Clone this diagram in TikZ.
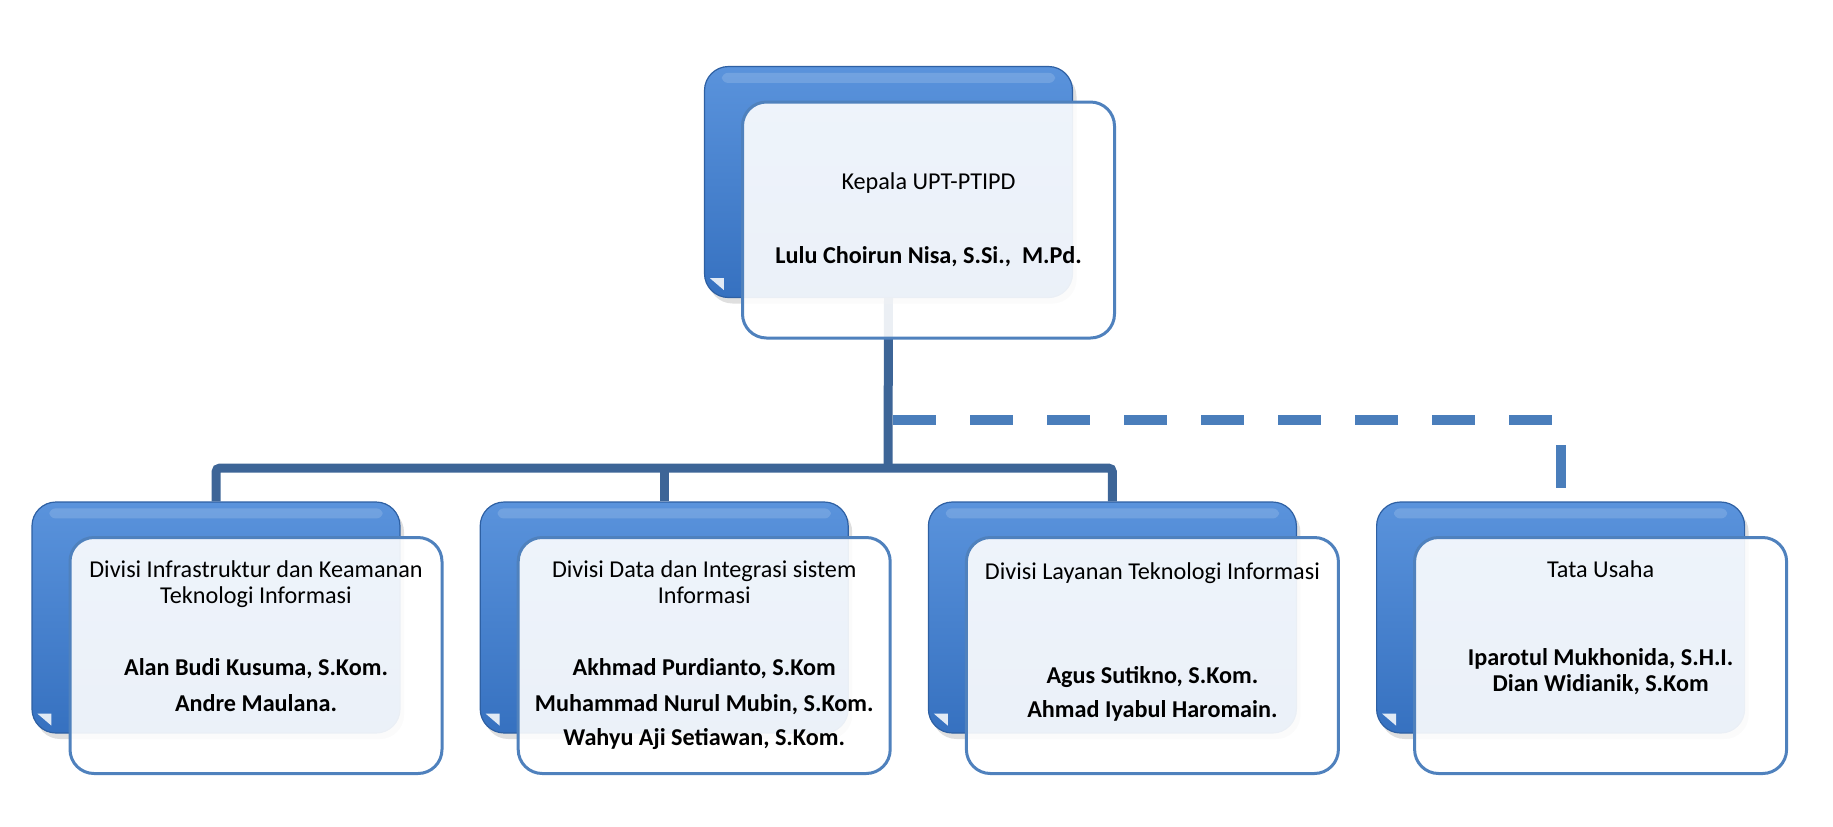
\documentclass[tikz,border=0pt]{standalone}
\usepackage{fontspec}
\setmainfont{Carlito}
\usetikzlibrary{positioning,shadows,backgrounds}
\definecolor{glossTop}{HTML}{5A93DC}
\definecolor{glossBot}{HTML}{3671C0}
\definecolor{frameBlue}{HTML}{4F81BD}
\definecolor{busBlue}{HTML}{3D6597}
\definecolor{dashBlue}{HTML}{4A7EBB}

\begin{document}
\begin{tikzpicture}[
  x=0.5pt, y=-0.5pt,
  font=\fontsize{12.1}{13}\selectfont,
  backbox/.style={rounded corners=12pt,minimum width=184pt,minimum height=115.5pt,top color=glossTop,bottom color=glossBot,draw=glossBot!85!black,line width=0.6pt,drop shadow={shadow xshift=2pt,shadow yshift=-3pt,opacity=0.25}},
  frontbox/.style={rounded corners=12pt,minimum width=186pt,minimum height=118pt,draw=frameBlue,line width=1.5pt,fill=white,fill opacity=0.9,text opacity=1,align=center},
  lbl/.style={align=center,inner sep=0pt},
  bus/.style={draw=busBlue,line width=4.5pt},
  dashbus/.style={draw=dashBlue,line width=5pt,dash pattern=on 21.5pt off 17pt}
]
\useasboundingbox (0,0) rectangle (1833,826);

% back (blue) boxes
\node[backbox] (top) at (888.5,182) {};
\node[backbox] (d1) at (216,617.5) {};
\node[backbox, right=39.5pt of d1] (d2) {};
\node[backbox, right=39.5pt of d2] (d3) {};
\node[backbox, right=39.5pt of d3] (d4) {};

\foreach \b in {top,d1,d2,d3,d4} {
  \fill[white,opacity=0.15,rounded corners=3pt] ([xshift=9pt,yshift=-3.5pt]\b.north west) rectangle ([xshift=-9pt,yshift=-8.5pt]\b.north east);
  \fill[white,opacity=0.85] ([xshift=3pt,yshift=10pt]\b.south west) -- ([xshift=10pt,yshift=10pt]\b.south west) -- ([xshift=10pt,yshift=4pt]\b.south west) -- cycle;
}

% front (white) boxes
\node[frontbox] (kepala) at ([shift={(40,38)}]top.center) {Kepala UPT-PTIPD\\[24pt]\textbf{Lulu Choirun Nisa, S.Si.,\ \ M.Pd.}};
\node[frontbox] (f1) at ([shift={(40,38)}]d1.center) {};
\node[frontbox] (f2) at ([shift={(40,38)}]d2.center) {};
\node[frontbox] (f3) at ([shift={(40,38)}]d3.center) {};
\node[frontbox] (f4) at ([shift={(40,38)}]d4.center) {};

\node[lbl, below=12pt of f1.north] (t1) {Divisi Infrastruktur dan Keamanan\\Teknologi Informasi\\[23pt]\textbf{Alan Budi Kusuma, S.Kom.}\\[5pt]\textbf{Andre Maulana.}};
\node[lbl, below=12pt of f2.north] (t2) {Divisi Data dan Integrasi sistem\\Informasi\\[23pt]\textbf{Akhmad Purdianto, S.Kom}\\[5pt]\textbf{Muhammad Nurul Mubin, S.Kom.}\\[4pt]\textbf{Wahyu Aji Setiawan, S.Kom.}};
\node[lbl, below=13pt of f3.north] (t3) {Divisi Layanan Teknologi Informasi\\[39pt]\textbf{Agus Sutikno, S.Kom.}\\[4pt]\textbf{Ahmad Iyabul Haromain.}};
\node[lbl, below=12pt of f4.north] (t4) {Tata Usaha\\[31pt]\textbf{Iparotul Mukhonida, S.H.I.}\\\textbf{Dian Widianik, S.Kom}};

% connectors behind the boxes
\begin{scope}[on background layer]
\coordinate (bus) at (888,468);
\coordinate (tap) at (893,420);
\draw[bus] (top.south) -- (bus);
\draw[bus, rounded corners=2pt] (d1.north) |- (bus) -| (d3.north);
\draw[bus] (d2.north) -- (d2.north |- bus);
\draw[dashbus] (tap) -| (d4.north);
\end{scope}
\end{tikzpicture}
\end{document}
